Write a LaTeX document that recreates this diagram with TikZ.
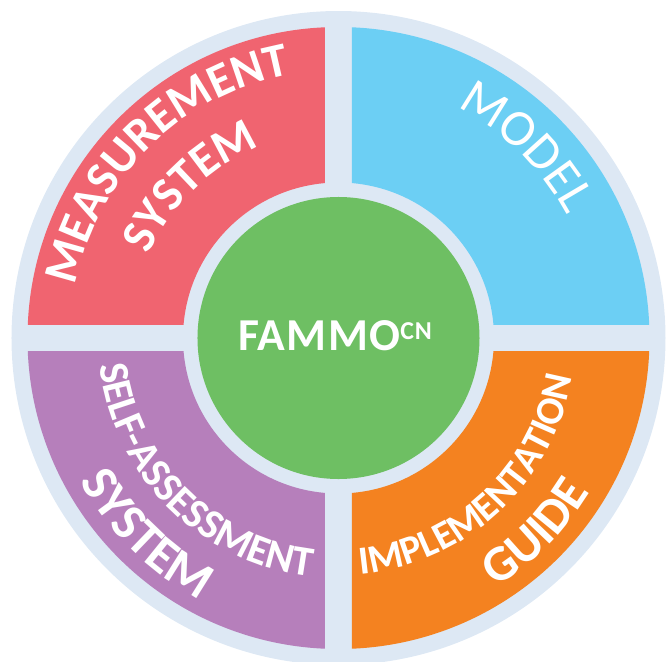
\documentclass[tikz,border=0pt]{standalone}
\usepackage{fontspec}
\setmainfont{Carlito}
\usetikzlibrary{decorations.text}
\definecolor{ringbg}{RGB}{221,232,244}
\definecolor{measred}{RGB}{240,100,112}
\definecolor{modblue}{RGB}{108,207,244}
\definecolor{selfpurple}{RGB}{182,127,187}
\definecolor{implorange}{RGB}{244,130,32}
\definecolor{famgreen}{RGB}{110,191,99}
\tikzset{
  %style for the coloured quarters
  quarter/.style={even odd rule},
  %style for the centre disc
  core/.style={
    circle,
    fill=famgreen,
    minimum size=8.46cm,
    inner sep=0pt},
  coretext/.style={
    inner sep=0pt,
    text=white,
    font=\bfseries\fontsize{39}{39}\selectfont\addfontfeature{LetterSpace=3}},
  %style for the bent labels
  bent/.style={
    decorate,
    decoration={text along path, text align=center, text color=white, text={#1}}}
}

\begin{document}
\begin{tikzpicture}[x=0.03cm, y=0.03cm]
\useasboundingbox (-338.5,-323) rectangle (327.5,338);
%background disc
\fill[ringbg] (0,0) circle (327);
%quarters
\foreach \sx/\sy/\col in {-1/1/measred, 1/1/modblue, -1/-1/selfpurple, 1/-1/implorange}{
  \begin{scope}
    \clip (13.5*\sx,13.5*\sy) rectangle (330*\sx,330*\sy);
    \fill[\col, quarter] (0,0) circle (311) (0,0) circle (155.5);
  \end{scope}
}
%centre
\node[core] (core) at (0,0) {};
\node[coretext] (fammo) at (-3.5,2) {FAMMO\raisebox{10pt}{\fontsize{22}{22}\selectfont CN}};

%labels, clockwise
\path[bent={|\fontsize{41}{41}\selectfont\bfseries|MEASUREMENT}] (204.5:268) arc[start angle=204.5, end angle=64.5, radius=268];
\path[bent={|\fontsize{41}{41}\selectfont\bfseries|SYSTEM}] (204.3:207) arc[start angle=204.3, end angle=64.3, radius=207];
\path[bent={|\fontsize{44}{44}\selectfont|MODEL}] (115.5:259) arc[start angle=115.5, end angle=-24.5, radius=259];
%labels, counter clockwise
\path[bent={|\fontsize{36}{36}\selectfont\bfseries|SELF-ASSESSMENT}] (155:240) arc[start angle=155, end angle=295, radius=240];
\path[bent={|\fontsize{44}{44}\selectfont\bfseries|SYSTEM}] (155.6:296) arc[start angle=155.6, end angle=295.6, radius=296];
\path[bent={|\fontsize{34}{34}\selectfont\bfseries|IMPLEMENTATION}] (243:237) arc[start angle=243, end angle=383, radius=237];
\path[bent={|\fontsize{43}{43}\selectfont\bfseries|GUIDE}] (245.5:295) arc[start angle=245.5, end angle=385.5, radius=295];

\end{tikzpicture}
\end{document}
